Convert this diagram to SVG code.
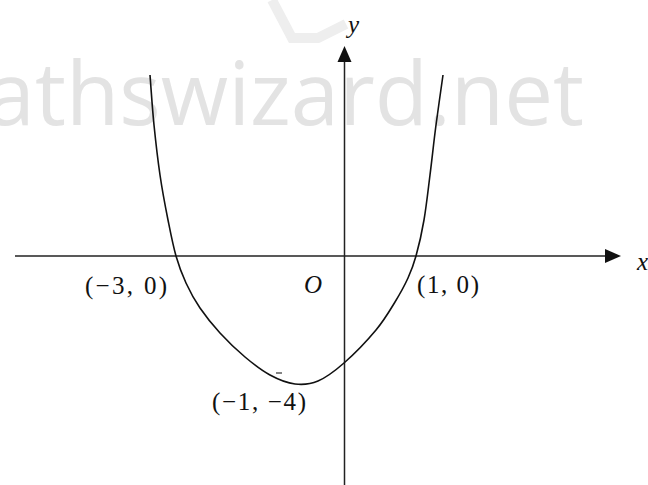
<svg xmlns="http://www.w3.org/2000/svg" width="648" height="485" viewBox="0 0 648 485">
<style>
.wm{font-family:"Open Sans","Noto Sans",sans-serif;font-size:87px;fill:#e3e3e3;}
.lbl{font-family:"Liberation Serif","Times New Roman",serif;font-size:25px;fill:#111;}
.it{font-style:italic;}
.axis{stroke:#222;stroke-width:1.5;fill:none;}
.curve{stroke:#111;stroke-width:1.6;fill:none;}
.head{fill:#111;}
</style>
<rect width="648" height="485" fill="#ffffff"/>
<g id="watermark">
<path d="M272,0 L292,38 L318,38 L346,24" stroke="#eeeeee" stroke-width="10" fill="none"/>
<text class="wm" x="-94" y="125">mathswizard.net</text>
</g>
<g id="connectors">
<line class="axis" x1="15" y1="256" x2="607" y2="256"/>
<polygon class="head" points="621,256 605,249 605,263"/>
<line class="axis" x1="344.5" y1="485" x2="344.5" y2="60"/>
<polygon class="head" points="344.5,46 337.5,62 351.5,62"/>
</g>
<g id="curve">
<path class="curve" d="M150,75 C151.3,91.7 152.3,108.3 154,125 C155.7,141.7 157.7,159.2 160,175 C162.3,190.8 165.3,206.5 168,220 C170.7,233.5 173,245.5 176,256 C179,266.5 182,274.3 186,283 C190,291.7 194.3,299.7 200,308 C205.7,316.3 212.5,324.8 220,333 C227.5,341.2 236.7,350 245,357 C253.3,364 261.7,370.5 270,375 C278.3,379.5 287,383 295,384 C303,385 309.8,384.5 318,381 C326.2,377.5 334.3,371.5 344,363 C353.7,354.5 367.5,340.2 376,330 C384.5,319.8 389.7,310.7 395,302 C400.3,293.3 404.5,285.7 408,278 C411.5,270.3 413.3,265.7 416,256 C418.7,246.3 421.7,233.5 424,220 C426.3,206.5 428,190.8 430,175 C432,159.2 433.8,141.7 436,125 C438.2,108.3 440.7,91.7 443,75"/>
<line x1="276" y1="373" x2="282" y2="373" stroke="#333" stroke-width="1.2"/>
</g>
<g id="labels">
<text class="lbl it" x="348" y="33" font-size="20">y</text>
<text class="lbl it" x="637" y="270" font-size="20">x</text>
<text class="lbl it" x="304" y="293">O</text>
<text class="lbl" x="85" y="294" textLength="82" lengthAdjust="spacing">(−3, 0)</text>
<text class="lbl" x="417" y="293" textLength="62" lengthAdjust="spacing">(1, 0)</text>
<text class="lbl" x="212" y="410" textLength="94" lengthAdjust="spacing">(−1, −4)</text>
</g>
</svg>
